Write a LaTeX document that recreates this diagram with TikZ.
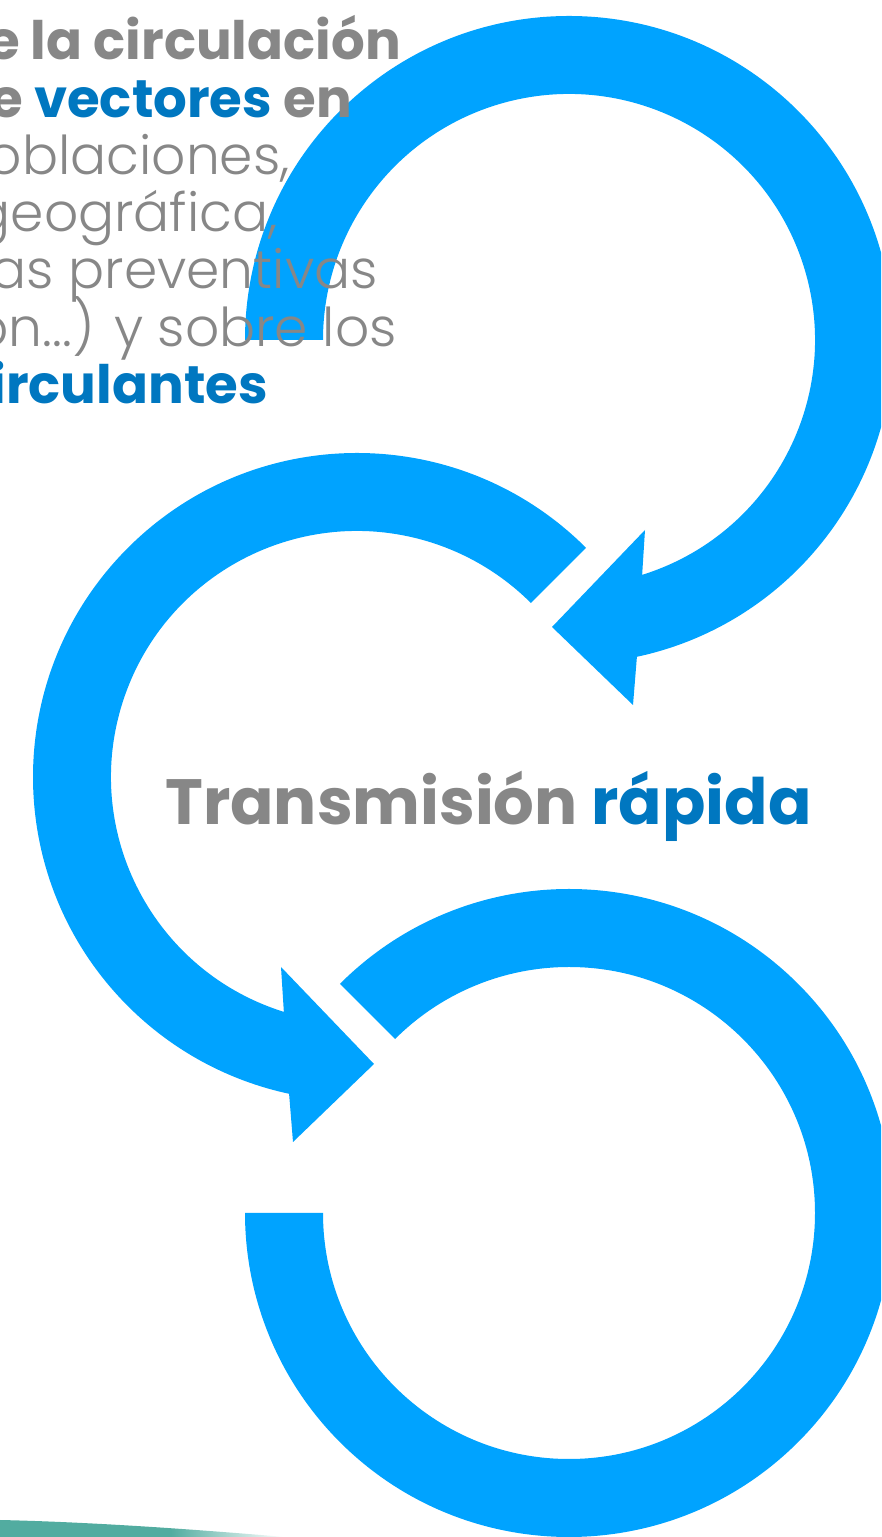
\documentclass[tikz,border=0pt]{standalone}
\usepackage{fontspec}
\setmainfont{Poppins}
\newfontfamily\poplight{Poppins Light}
\definecolor{ringblue}{RGB}{0,163,255}
\definecolor{txtgrey}{RGB}{135,135,135}
\definecolor{txtblue}{RGB}{0,119,192}
\definecolor{tealc}{RGB}{82,172,160}
\pgfdeclarehorizontalshading{swoosh}{100bp}{color(0bp)=(tealc); color(25bp)=(tealc); color(55bp)=(tealc); color(75bp)=(white); color(100bp)=(white)}
\tikzset{
  ring/.style={fill=ringblue, draw=none},
  txt/.style={inner sep=0pt, anchor=base east, text=txtgrey},
  boldtxt/.style={txt, font=\fontsize{53}{57}\selectfont\bfseries},
  lighttxt/.style={txt, font=\poplight\fontsize{53.5}{57}\selectfont},
  titletxt/.style={inner sep=0pt, anchor=base west, text=txtgrey, font=\fontsize{64}{76}\selectfont\bfseries}
}
\begin{document}
\begin{tikzpicture}[x=1pt, y=1pt]
\useasboundingbox (0,0) rectangle (881,1537);
\begin{scope}
\clip (0,0) rectangle (881,1537);
% top ring arrow
\begin{scope}[shift={(569,1197)}]
\fill[ring] (180:324) arc[start angle=180, end angle=-77.9, radius=324]
  -- (64,-365) -- (-17,-287) -- (76,-190) -- (-72.7:246)
  arc[start angle=-72.7, end angle=180, radius=246] -- cycle;
\end{scope}
% middle ring arrow
\begin{scope}[shift={(357,760)}]
\fill[ring] (45:324) arc[start angle=45, end angle=257.9, radius=324]
  -- (-64,-365) -- (17,-287) -- (-76,-190) -- (252.7:246)
  arc[start angle=252.7, end angle=45, radius=246] -- cycle;
\end{scope}
% bottom ring
\begin{scope}[shift={(569,324)}]
\fill[ring] (135:324) arc[start angle=135, end angle=-180, radius=324]
  -- (180:246) arc[start angle=-180, end angle=135, radius=246] -- cycle;
\end{scope}
% teal swoosh
\shade[shading=swoosh] (0,0) -- (0,17) .. controls (90,15) and (190,8) .. (285,0) -- cycle;
% text
\node[boldtxt] (l1) at (401,1477) {e la circulación};
\node[boldtxt] (l2) at (352,1419) {e \textcolor{txtblue}{vectores} en};
\node[lighttxt] (l3) at (290,1362) {oblaciones,};
\node[lighttxt] (l4) at (278,1305) {geográfica,};
\node[lighttxt] (l5) at (378,1248) {as preventivas};
\node[lighttxt] (l6) at (397,1190) {on...) y sobre los};
\node[boldtxt, text=txtblue] (l7) at (268,1133) {irculantes};
\node[titletxt] (title) at (165,712) {Transmisión \textcolor{txtblue}{rápida}};
\end{scope}
\end{tikzpicture}
\end{document}
